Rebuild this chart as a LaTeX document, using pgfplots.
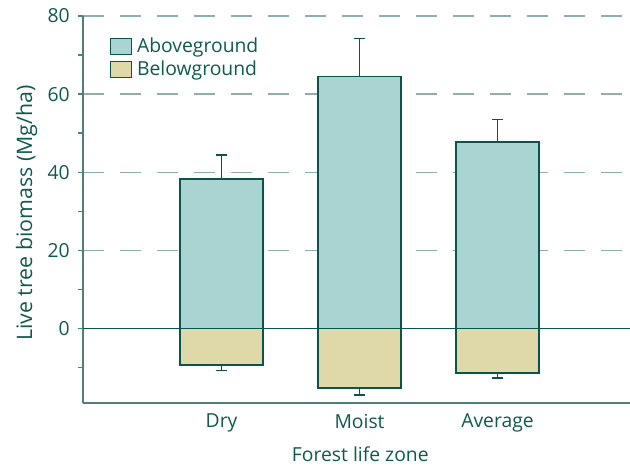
\documentclass[border=0pt]{standalone}
\usepackage{fontspec}
\setmainfont{Open Sans}
\usepackage{pgfplots}
\pgfplotsset{compat=1.18}
\definecolor{txt}{HTML}{0F5A4E}
\definecolor{edge}{HTML}{0A554B}
\definecolor{axc}{HTML}{4D8078}
\definecolor{gridc}{HTML}{8FB0AA}
\definecolor{above}{HTML}{A9D4D2}
\definecolor{below}{HTML}{DFD8A8}
\begin{document}
\fontsize{14.5}{17}\selectfont
\begin{tikzpicture}
\begin{axis}[name=ax, scale only axis, width=410.25pt, height=290pt,
  xmin=-1.004, xmax=2.96, ymin=-19, ymax=80,
  ybar, bar shift=0pt, bar width=0.6,
  axis x line*=bottom, axis y line*=left,
  axis line style={draw=axc, line width=1.3pt, -},
  xtick={0,1,2}, xticklabels={Dry,Moist,Average},
  x tick style={draw=none},
  ytick={0,20,40,60,80}, minor ytick={-10,10,30,50,70},
  tick align=outside, major tick length=3.5pt, minor tick length=3.5pt,
  y tick style={draw=axc, line width=1pt},
  ymajorgrids, major grid style={draw=gridc, line width=1pt, dash pattern=on 15.75pt off 12pt},
  /pgf/number format/assume math mode=true,
  tick label style={text=txt},
  yticklabel style={xshift=-1.5pt},
  xlabel={Forest life zone}, ylabel={Live tree biomass (Mg/ha)},
  label style={text=txt},
  xlabel style={at={(axis description cs:0.507,-0.153)}, anchor=base},
  ylabel style={at={(axis description cs:-0.103,0.49)}, anchor=center, font=\fontsize{16}{19}\selectfont},
  legend style={draw=none, fill=none, at={(axis description cs:0.049,0.951)}, anchor=north west, text=txt, row sep=0pt, inner sep=0pt,
    /tikz/every odd column/.append style={column sep=1.5pt}},
  legend cell align=left,
  legend image code/.code={\draw[#1, draw=edge, line width=1pt] (0pt,-6pt) rectangle (15.75pt,6pt);},
  error bars/error bar style={draw=edge, line width=1.1pt},
  error bars/error mark options={rotate=90, draw=edge, line width=1.1pt, mark size=4.1pt},
]
\addplot[fill=above, draw=edge, line width=1.1pt,
  error bars/.cd, y dir=plus, y explicit]
  coordinates {(0,38.3) +- (0,6.1) (1,64.5) +- (0,9.7) (2,47.7) +- (0,5.8)};
\addlegendentry{Aboveground}
\addplot[fill=below, draw=edge, line width=1.1pt,
  error bars/.cd, y dir=minus, y explicit]
  coordinates {(0,-9.3) +- (0,1.4) (1,-15.2) +- (0,1.9) (2,-11.4) +- (0,1.3)};
\addlegendentry{Belowground}
\addplot[sharp plot, draw=edge, line width=1pt, forget plot] coordinates {(-1.004,0) (2.96,0)};
\end{axis}
\pgfresetboundingbox
\path ([shift={(-62.25pt,-49pt)}]ax.south west) rectangle ([shift={(0pt,12pt)}]ax.north east);
\end{tikzpicture}
\end{document}
